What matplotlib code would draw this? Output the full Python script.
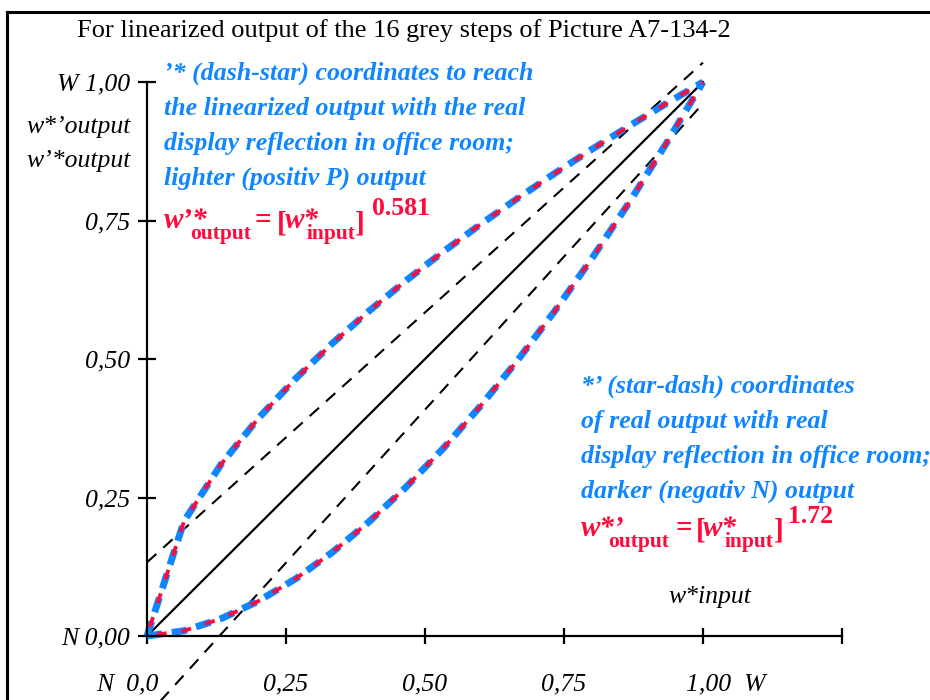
import matplotlib
matplotlib.use("Agg")
import matplotlib.pyplot as plt
from matplotlib.lines import Line2D

# 16 grey steps, input coordinate w*input
steps = [0.0, 0.0667, 0.1333, 0.2, 0.2667, 0.3333, 0.4, 0.4667,
         0.5333, 0.6, 0.6667, 0.7333, 0.8, 0.8667, 0.9333, 1.0]
# lighter (positiv P) output, exponent 0.581
out_light = [0.0, 0.2074, 0.3101, 0.3926, 0.4640, 0.5282, 0.5872, 0.6422,
             0.6940, 0.7432, 0.7901, 0.8351, 0.8784, 0.9202, 0.9607, 1.0]
# darker (negativ N) output, exponent 1.72
out_dark = [0.0, 0.0095, 0.0313, 0.0628, 0.1029, 0.1511, 0.2068, 0.2696,
            0.3392, 0.4154, 0.4978, 0.5865, 0.6813, 0.7818, 0.8881, 1.0]

# dashed guide lines
guide_x = [0.0, 1.0]
guide_upper = [0.133, 1.035]
guide_lower = [-0.144, 0.961]

xticks = [0.0, 0.25, 0.5, 0.75, 1.0, 1.25]
xtick_labels = ["N  0,0", "0,25", "0,50", "0,75", "1,00  W", ""]
yticks = [0.0, 0.25, 0.5, 0.75, 1.0]
ytick_labels = ["N 0,00", "0,25", "0,50", "0,75", "W 1,00"]

BLUE = "#0f86ff"
RED = "#ff0a3c"
SERIF = "Liberation Serif"

W, H = 930, 700
fig = plt.figure(figsize=(W / 100, H / 100), dpi=100)
ax = fig.add_axes([0, 0, 1, 1])
ax.patch.set_alpha(0)

# pixel mapping: x=0 -> 147px, x=1 -> 703px ; y=0 -> 636px, y=1 -> 82px
sx, sy = 556.0, 554.0
ax.set_xlim(-147 / sx, (W - 147) / sx)
ax.set_ylim((636 - H) / sy, 636 / sy)


def px(x, y):
    return x / W, 1 - y / H


# frame
fig.add_artist(Line2D([7 / W, 1], [1 - 12 / H] * 2, color="black", lw=2.2,
                      transform=fig.transFigure))
fig.add_artist(Line2D([7 / W] * 2, [0, 1 - 12 / H], color="black", lw=2.2,
                      transform=fig.transFigure))

for s in ["top", "right"]:
    ax.spines[s].set_visible(False)
ax.spines["left"].set_position(("data", 0))
ax.spines["bottom"].set_position(("data", 0))
ax.spines["left"].set_bounds(0, 1)
ax.spines["bottom"].set_bounds(0, 1.25)
ax.spines["left"].set_linewidth(1.6)
ax.spines["bottom"].set_linewidth(1.6)

ax.set_yticks(yticks)
ax.set_yticklabels(ytick_labels, fontsize=18.5, family=SERIF, style="italic")
ax.tick_params(axis="y", direction="inout", length=13, width=1.6, pad=6)
ax.set_xticks(xticks)
ax.set_xticklabels([])
ax.tick_params(axis="x", direction="inout", length=12, width=1.6)

for xv, lab in zip(xticks, xtick_labels):
    if not lab:
        continue
    ha = "center"
    dx = 0
    if lab.startswith("N"):
        ha, dx = "right", 8
    elif lab.endswith("W"):
        ha, dx = "left", -12
    ax.annotate(lab, (xv, 0), xytext=(dx, -54 * 0.72), textcoords="offset points",
                ha=ha, va="baseline", fontsize=18.5, family=SERIF, style="italic")

# guides and diagonal
ax.plot(guide_x, guide_upper, color="black", lw=1.5, dashes=(6, 4.5))
ax.plot(guide_x, guide_lower, color="black", lw=1.5, dashes=(6, 4.5))
ax.plot([0, 1], [0, 1], color="black", lw=1.6)

# output curves: blue dashes with red dashes on top
for ys in (out_light, out_dark):
    ax.plot(steps, ys, color=BLUE, lw=5, linestyle=(0, (2.2, 1.4)),
            dash_capstyle="butt")
    ax.plot(steps, ys, color=RED, lw=2.8, linestyle=(-2.5, (2.6, 3.8)),
            dash_capstyle="butt")

# texts
fig.text(*px(77, 37), "For linearized output of the 16 grey steps of Picture A7-134-2",
         fontsize=19, family=SERIF, va="baseline")
fig.text(*px(131, 133), "w*\u2019output", fontsize=18.5, family=SERIF,
         style="italic", ha="right", va="baseline")
fig.text(*px(131, 167), "w\u2019*output", fontsize=18.5, family=SERIF,
         style="italic", ha="right", va="baseline")
fig.text(*px(668, 603), "w*input", fontsize=18.5, family=SERIF,
         style="italic", va="baseline")

left_block = ["\u2019* (dash-star) coordinates to reach",
              "the linearized output with the real",
              "display reflection in office room;",
              "lighter (positiv P) output"]
right_block = ["*\u2019 (star-dash) coordinates",
               "of real output with real",
               "display reflection in office room;",
               "darker (negativ N) output"]
for i, line in enumerate(left_block):
    fig.text(*px(164, 80 + 35 * i), line, color=BLUE, fontsize=18.6,
             family=SERIF, weight="bold", style="italic", va="baseline")
for i, line in enumerate(right_block):
    fig.text(*px(581, 393 + 35 * i), line, color=BLUE, fontsize=18.6,
             family=SERIF, weight="bold", style="italic", va="baseline")


def formula(y0, head, expo, pos):
    # pos: x of head, output, '=', '[', 'w*', input, ']', exponent
    kw = dict(color=RED, family=SERIF, weight="bold", va="baseline")
    fig.text(*px(pos[0], y0), head, fontsize=21, style="italic", **kw)
    fig.text(*px(pos[1], y0 + 11), "output", fontsize=15.5, **kw)
    fig.text(*px(pos[2], y0), "=", fontsize=21, **kw)
    fig.text(*px(pos[3], y0 + 3), "[", fontsize=21, **kw)
    fig.text(*px(pos[4], y0), "w*", fontsize=21, style="italic", **kw)
    fig.text(*px(pos[5], y0 + 11), "input", fontsize=15.5, **kw)
    fig.text(*px(pos[6], y0 + 3), "]", fontsize=21, **kw)
    fig.text(*px(pos[7], y0 - 13), expo, fontsize=18.5, **kw)


formula(228, "w\u2019*", "0.581", [164, 190, 255, 277, 285, 307, 355, 372])
formula(536, "w*\u2019", "1.72", [581, 608, 675, 696, 703, 725, 774, 788])

fig.savefig("out.png", dpi=100)
